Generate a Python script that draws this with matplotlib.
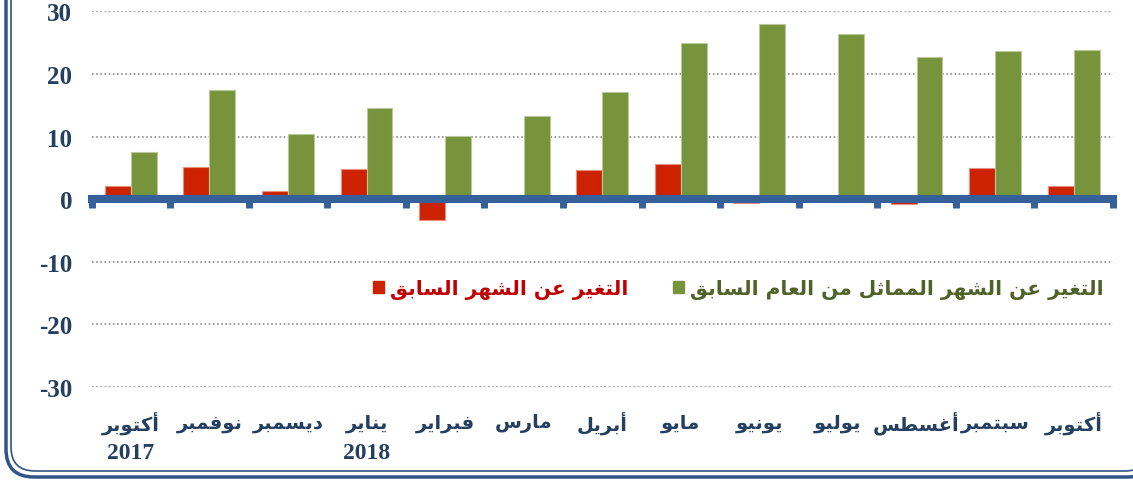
import numpy as np
import matplotlib
matplotlib.use("Agg")
from matplotlib import pyplot as plt
from matplotlib.patches import FancyBboxPatch, Patch

plt.rcParams["axes.unicode_minus"] = False

# data
months = ["أكتوبر", "نوفمبر", "ديسمبر", "يناير", "فبراير", "مارس", "أبريل",
          "مايو", "يونيو", "يوليو", "أغسطس", "سبتمبر", "أكتوبر"]
years = {0: "2017", 3: "2018"}
monthly = [2.1, 5.2, 1.3, 4.8, -3.4, 0.0, 4.7, 5.6, -0.6, 0.0, -0.7, 4.9, 2.1]
yearly = [7.6, 17.5, 10.4, 14.5, 10.1, 13.3, 17.1, 24.9, 28.0, 26.4, 22.7, 23.7, 23.9]
label_monthly = "التغير عن الشهر السابق"
label_yearly = "التغير عن الشهر المماثل من العام السابق"

# matplotlib has no arabic shaping, so do it by hand (presentation forms + rtl)
FORMS = {
    '\u0623': (0xFE83, False), '\u0627': (0xFE8D, False), '\u0628': (0xFE8F, True),
    '\u062A': (0xFE95, True), '\u062B': (0xFE99, True), '\u062F': (0xFEA9, False),
    '\u0631': (0xFEAD, False), '\u0633': (0xFEB1, True), '\u0634': (0xFEB5, True),
    '\u0637': (0xFEC1, True), '\u0639': (0xFEC9, True), '\u063A': (0xFECD, True),
    '\u0641': (0xFED1, True), '\u0642': (0xFED5, True), '\u0643': (0xFED9, True),
    '\u0644': (0xFEDD, True), '\u0645': (0xFEE1, True), '\u0646': (0xFEE5, True),
    '\u0647': (0xFEE9, True), '\u0648': (0xFEED, False), '\u064A': (0xFEF1, True),
}


def shape(s):
    out = []
    for i, ch in enumerate(s):
        if ch not in FORMS:
            out.append(ch)
            continue
        base, dual = FORMS[ch]
        prev = s[i - 1] if i > 0 else ''
        nxt = s[i + 1] if i + 1 < len(s) else ''
        jp = prev in FORMS and FORMS[prev][1]
        jn = dual and nxt in FORMS
        if jp and jn:
            off = 3
        elif jp:
            off = 1
        elif jn:
            off = 2
        else:
            off = 0
        out.append(chr(base + off))
    return ''.join(reversed(out))


navy = "#243F60"
red = "#CC2200"
green = "#77933C"
axis_blue = "#36609A"

fig = plt.figure(figsize=(11.33, 4.81), dpi=100)
ax = fig.add_axes([0.0808, 0.1933, 0.9015, 0.7811])

x = np.arange(len(months))
w = 0.33
ax.bar(x - w / 2, monthly, w, color=red, edgecolor="#E8907F", linewidth=0.8, zorder=2)
ax.bar(x + w / 2, yearly, w, color=green, edgecolor="#B9C99A", linewidth=0.8, zorder=2)

ax.set_xlim(-0.5, len(months) - 0.5)
ax.set_ylim(-30, 30)
ax.set_yticks([-30, -20, -10, 0, 10, 20, 30])
for g in [-30, -20, -10, 10, 20, 30]:
    ax.axhline(g, color="#8C8C8C", lw=1.2, ls=(0, (1, 1.5)), zorder=1)

for s in ["top", "right", "left"]:
    ax.spines[s].set_visible(False)
ax.spines["bottom"].set_position(("data", 0))
ax.spines["bottom"].set_color(axis_blue)
ax.spines["bottom"].set_linewidth(5.8)
ax.spines["bottom"].set_zorder(3)
ax.set_xticks(np.arange(-0.5, len(months), 1.0))
ax.tick_params(axis="x", direction="out", length=6.5, width=5, color=axis_blue,
               labelbottom=False)
ax.tick_params(axis="y", length=0, pad=14)
for lab in ax.get_yticklabels():
    lab.set_fontfamily("Liberation Serif")
    lab.set_fontweight("bold")
    lab.set_fontsize(18)
    lab.set_color(navy)

trans = ax.get_xaxis_transform()
for i, m in enumerate(months):
    ax.text(i, -0.095, shape(m), transform=trans, ha="center", va="center",
            fontsize=14, fontweight="bold", family="DejaVu Sans", color=navy)
for i, yr in years.items():
    ax.text(i, -0.147, yr, transform=trans, ha="center", va="top",
            fontsize=17, fontweight="bold", family="Liberation Serif", color=navy)

handles = [Patch(color=red), Patch(color=green)]
leg = ax.legend(handles, [shape(label_monthly), shape(label_yearly)], ncol=2,
                loc="center", bbox_to_anchor=(0.633, 0.26), frameon=False,
                prop={"family": "DejaVu Sans", "weight": "bold", "size": 14.5},
                handlelength=0.55, handleheight=0.55, handletextpad=0.3,
                columnspacing=2.2)
leg.get_texts()[0].set_color("#C00000")
leg.get_texts()[1].set_color("#4F6228")

# rounded double frame round the chart (pixel coords, origin bottom-left)
fig.patches.append(FancyBboxPatch((6, 3), 1150, 530, boxstyle="round,pad=0,rounding_size=28",
                                  transform=None, fill=False, ec="#2F5588", lw=2.5))
fig.patches.append(FancyBboxPatch((11, 9), 1138, 530, boxstyle="round,pad=0,rounding_size=24",
                                  transform=None, fill=False, ec="#2F5588", lw=1.2))

fig.savefig("out.png", dpi=100)
